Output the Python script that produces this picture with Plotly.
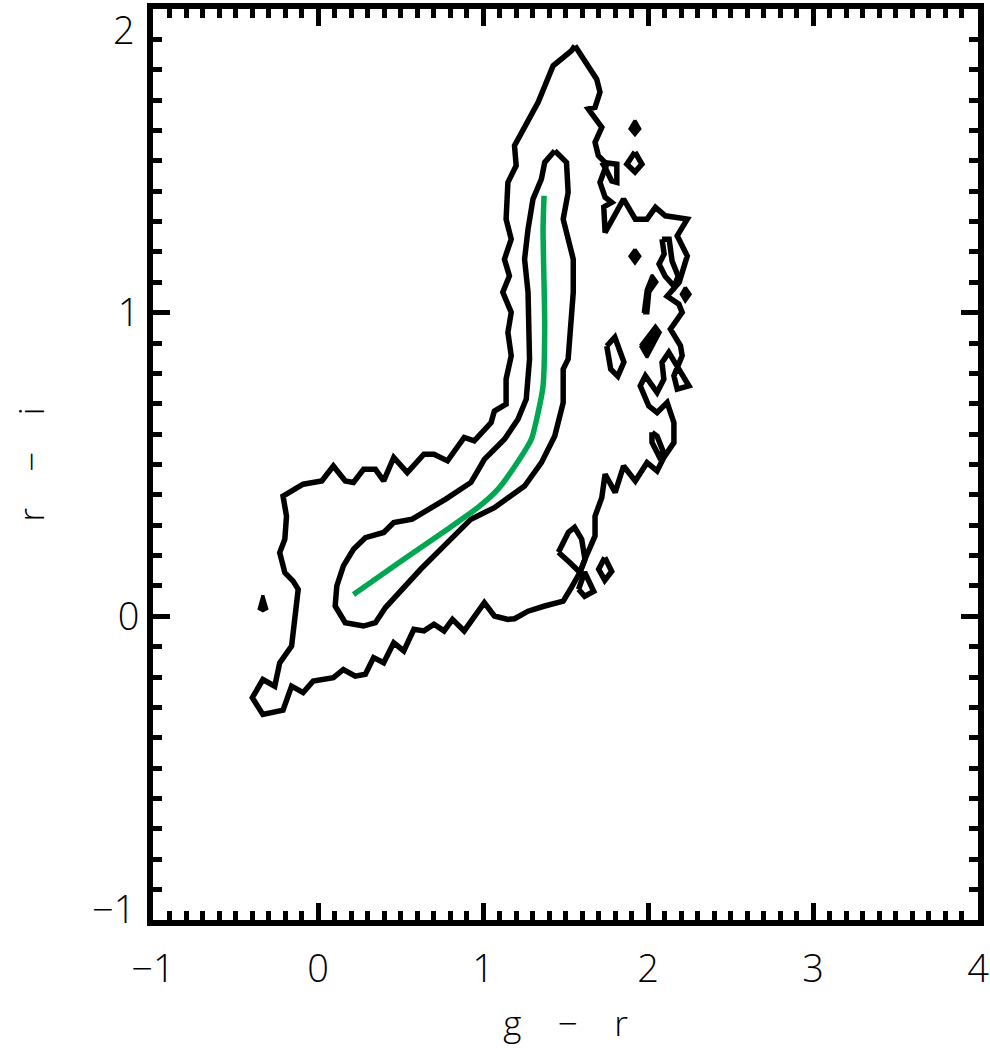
import plotly.graph_objects as go

# ---- data (g-r, r-i) ----
outer_x = [1.557,1.537,1.425,1.334,1.191,1.201,1.151,1.140,1.171,1.130,
           1.160,1.120,1.171,1.151,1.171,1.140,1.140,1.069,1.049,0.947,
           0.886,0.785,0.703,0.642,0.541,0.459,0.398,0.348,0.276,0.215,
           0.165,0.093,0.023,-0.090,-0.212,-0.191,-0.201,-0.232,-0.201,-0.151,
           -0.120,-0.140,-0.160,-0.232,-0.262,-0.334,-0.398,-0.334,-0.212,-0.160,
           -0.090,-0.029,0.093,0.154,0.226,0.287,0.337,0.398,0.459,0.520,
           0.581,0.642,0.703,0.764,0.815,0.886,1.008,1.069,1.151,1.191,
           1.273,1.374,1.486,1.537,1.587,1.618,1.679,1.679,1.720,1.740,
           1.801,1.852,1.923,1.994,2.055,2.096,2.157,2.157,2.116,2.055,
           2.004,1.953,1.984,2.055,2.096,2.085,2.126,2.248,2.177,2.157,
           2.207,2.197,2.136,2.207,2.187,2.116,2.189,2.238,2.177,2.238,
           2.105,2.045,1.994,1.923,1.852,1.740,1.732,1.780,1.740,1.709,
           1.750,1.699,1.679,1.720,1.638,1.679,1.709,1.689]
outer_y = [1.879,1.863,1.813,1.693,1.550,1.484,1.429,1.308,1.242,1.176,
           1.121,1.067,1.001,0.935,0.858,0.781,0.699,0.676,0.638,0.578,
           0.589,0.512,0.534,0.534,0.473,0.523,0.446,0.484,0.484,0.441,
           0.446,0.495,0.446,0.435,0.396,0.330,0.254,0.210,0.144,0.116,
           0.089,0.001,-0.098,-0.153,-0.230,-0.208,-0.268,-0.323,-0.309,-0.230,
           -0.251,-0.213,-0.202,-0.175,-0.197,-0.191,-0.136,-0.153,-0.087,-0.114,
           -0.043,-0.048,-0.026,-0.048,-0.010,-0.048,0.045,0.001,-0.010,-0.008,
           0.017,0.034,0.050,0.096,0.144,0.188,0.265,0.330,0.391,0.468,
           0.408,0.495,0.446,0.506,0.479,0.523,0.572,0.638,0.704,0.671,
           0.693,0.759,0.792,0.737,0.781,0.836,0.869,0.759,0.748,0.792,
           0.858,0.891,0.946,1.001,1.028,1.054,1.100,1.187,1.253,1.308,
           1.319,1.347,1.308,1.308,1.374,1.264,1.348,1.363,1.380,1.429,
           1.489,1.517,1.561,1.610,1.671,1.676,1.726,1.769]

inner_x = [1.435,1.374,1.354,1.303,1.273,1.252,1.273,1.282,1.262,1.212,
           1.130,1.008,0.968,0.927,0.774,0.683,0.571,0.459,0.398,0.287,
           0.215,0.154,0.114,0.104,0.165,0.276,0.348,0.409,0.500,0.622,
           0.764,0.846,0.927,1.069,1.252,1.354,1.435,1.486,1.486,1.516,
           1.547,1.547,1.516,1.486,1.516,1.506]
inner_y = [1.533,1.495,1.440,1.374,1.275,1.176,1.067,0.847,0.715,0.649,
           0.583,0.517,0.479,0.441,0.386,0.358,0.320,0.309,0.276,0.259,
           0.221,0.166,0.100,0.034,-0.021,-0.032,-0.021,0.029,0.083,0.155,
           0.232,0.276,0.320,0.358,0.429,0.506,0.594,0.704,0.814,0.847,
           1.067,1.176,1.253,1.308,1.396,1.495]

# stellar locus (green)
locus_x = [0.215,0.520,0.785,0.968,1.090,1.221,1.293,1.334,1.364,1.374,1.364,1.370]
locus_y = [0.072,0.188,0.287,0.358,0.418,0.517,0.583,0.671,0.759,0.956,1.275,1.385]

# small outer-level islands (open loops)
flag_x = [1.720,1.811,1.811,1.780,1.740]
flag_y = [1.495,1.489,1.429,1.434,1.478]
ring_x = [1.921,1.963,1.921,1.872]
ring_y = [1.529,1.489,1.463,1.489]
sloop_x = [2.085,2.128,2.146,2.183,2.159,2.104,2.067,2.098]
sloop_y = [1.242,1.242,1.170,1.120,1.087,1.120,1.160,1.193]
oval_x = [1.750,1.799,1.854,1.817,1.774]
oval_y = [0.890,0.919,0.837,0.791,0.814]
nook_x = [2.024,2.024,2.067,2.091,2.055]
nook_y = [0.606,0.573,0.527,0.544,0.593]
spur_x = [1.457,1.518,1.555,1.598,1.618,1.587,1.524]
spur_y = [0.211,0.277,0.293,0.254,0.188,0.145,0.178]
dia1_x = [1.579,1.616,1.671,1.616]
dia1_y = [0.089,0.145,0.082,0.066]
dia2_x = [1.738,1.780,1.738,1.701]
dia2_y = [0.194,0.148,0.119,0.155]

# tiny filled islands
blob1_x = [1.921,1.951,1.921,1.890]
blob1_y = [1.634,1.605,1.585,1.605]
blob2_x = [1.921,1.951,1.921,1.890]
blob2_y = [1.209,1.186,1.163,1.186]
blob3_x = [2.226,2.256,2.226,2.201]
blob3_y = [1.084,1.061,1.038,1.061]
blob4_x = [-0.334,-0.310,-0.334,-0.357]
blob4_y = [0.070,0.025,0.018,0.025]
hook_x = [1.970,1.988,2.024,2.055,2.012,2.000]
hook_y = [0.999,1.075,1.124,1.101,1.068,0.999]
bar_x = [1.953,2.045,2.075,1.994]
bar_y = [0.891,0.957,0.935,0.852]

x_ticks = [-1, 0, 1, 2, 3, 4]
x_ticktext = ["\u22121", "0", "1", "2", "3", "4"]
y_ticks = [-1, 0, 1, 2]
y_ticktext = ["\u22121", "0", "1", "2"]

LW = 5.5
FONT = "Open Sans"
SP = "\u00a0" * 4
fig = go.Figure()


def closed(xs, ys):
    return list(xs) + [xs[0]], list(ys) + [ys[0]]


for xs, ys in [(outer_x, outer_y), (inner_x, inner_y), (flag_x, flag_y),
               (ring_x, ring_y), (sloop_x, sloop_y), (oval_x, oval_y),
               (nook_x, nook_y), (spur_x, spur_y), (dia1_x, dia1_y),
               (dia2_x, dia2_y)]:
    cx, cy = closed(xs, ys)
    fig.add_trace(go.Scatter(x=cx, y=cy, mode="lines",
                             line=dict(color="black", width=LW),
                             hoverinfo="skip", showlegend=False))

for xs, ys in [(blob1_x, blob1_y), (blob2_x, blob2_y), (blob3_x, blob3_y),
               (blob4_x, blob4_y), (hook_x, hook_y), (bar_x, bar_y)]:
    cx, cy = closed(xs, ys)
    fig.add_trace(go.Scatter(x=cx, y=cy, mode="lines", fill="toself",
                             fillcolor="black",
                             line=dict(color="black", width=3),
                             hoverinfo="skip", showlegend=False))

fig.add_trace(go.Scatter(x=locus_x, y=locus_y, mode="lines",
                         line=dict(color="#00a651", width=LW, shape="spline",
                                   smoothing=0.6),
                         hoverinfo="skip", showlegend=False))

tickfont = dict(family=FONT, size=38, color="black", weight=300)
axis_common = dict(
    showgrid=False, zeroline=False,
    showline=True, linecolor="black", linewidth=6, mirror="ticks",
    ticks="inside", ticklen=17, tickwidth=5, tickcolor="black",
    minor=dict(dtick=0.1, ticks="inside", ticklen=9, tickwidth=5,
               tickcolor="black", showgrid=False),
    tickfont=tickfont,
)

# y end labels are nudged inward (as in the reference), so they are annotations
y_inner = [(t, s) for t, s in zip(y_ticks, y_ticktext) if t not in (-1, 2)]

fig.update_xaxes(range=[-1, 4], tickvals=x_ticks, ticktext=x_ticktext,
                 title=dict(text="g" + SP + "\u2212" + SP + "r",
                            font=dict(family=FONT, size=35, color="black",
                                      weight=300), standoff=22),
                 ticklabelstandoff=10, **axis_common)
fig.update_yaxes(range=[-1, 2], tickvals=[t for t, _ in y_inner],
                 ticktext=[s for _, s in y_inner],
                 title=dict(text="r" + SP + "\u2212" + SP + "i",
                            font=dict(family=FONT, size=35, color="black",
                                      weight=300), standoff=64),
                 ticklabelstandoff=0, **axis_common)

for t, s in zip(y_ticks, y_ticktext):
    if t == 2:
        fig.add_annotation(text=s, xref="paper", x=0, xanchor="right",
                           yref="y", y=t, yanchor="top", yshift=8,
                           xshift=-16, showarrow=False, font=tickfont)
    elif t == -1:
        fig.add_annotation(text=s, xref="paper", x=0, xanchor="right",
                           yref="y", y=t, yanchor="middle", yshift=12,
                           xshift=-16, showarrow=False, font=tickfont)

fig.update_layout(width=990, height=1049,
                  margin=dict(l=153, r=12, t=9, b=129, autoexpand=False),
                  paper_bgcolor="white", plot_bgcolor="white")

fig.write_html("out.html")
